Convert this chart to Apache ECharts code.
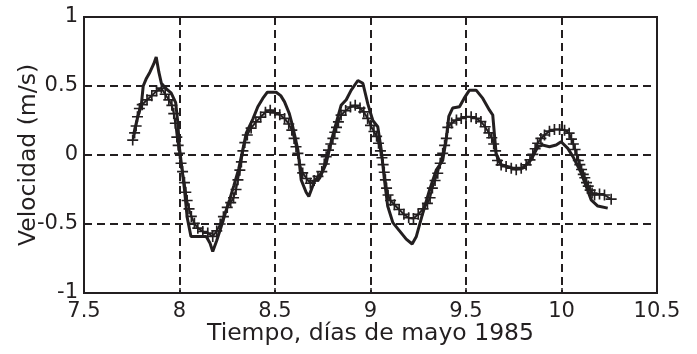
<!DOCTYPE html>
<html>
<head>
<meta charset="utf-8">
<script src="https://cdn.jsdelivr.net/npm/echarts@6/dist/echarts.min.js"></script>
<style>
html,body{margin:0;padding:0;background:#fff;}
#chart{width:697px;height:354px;}
</style>
</head>
<body>
<div id="chart"></div>
<script>
// Model (solid line)
const modelT = [7.76,7.78,7.80,7.81,7.825,7.845,7.865,7.878,7.892,7.905,7.93,7.956,7.98,7.99,8.0,8.013,8.026,8.04,8.06,8.10,8.14,8.16,8.174,8.195,8.218,8.24,8.262,8.285,8.31,8.33,8.35,8.384,8.41,8.436,8.46,8.506,8.53,8.55,8.575,8.593,8.61,8.62,8.637,8.663,8.677,8.707,8.733,8.768,8.80,8.83,8.846,8.873,8.899,8.934,8.96,8.986,9.012,9.038,9.056,9.073,9.09,9.117,9.152,9.187,9.218,9.24,9.274,9.31,9.344,9.378,9.396,9.41,9.43,9.466,9.49,9.518,9.553,9.588,9.623,9.64,9.65,9.658,9.684,9.745,9.797,9.84,9.876,9.90,9.937,9.972,9.998,10.033,10.06,10.103,10.13,10.155,10.19,10.242];
const modelV = [0.15,0.27,0.36,0.50,0.55,0.60,0.66,0.71,0.60,0.52,0.48,0.45,0.38,0.25,0.05,-0.10,-0.25,-0.45,-0.59,-0.59,-0.59,-0.64,-0.70,-0.62,-0.52,-0.42,-0.325,-0.22,-0.10,0.03,0.16,0.26,0.35,0.41,0.455,0.455,0.43,0.385,0.30,0.205,0.10,0.036,-0.18,-0.27,-0.30,-0.19,-0.17,-0.06,0.13,0.28,0.36,0.40,0.47,0.54,0.52,0.37,0.25,0.205,0.04,-0.18,-0.37,-0.49,-0.55,-0.61,-0.645,-0.59,-0.42,-0.25,-0.11,-0.04,0.11,0.28,0.34,0.35,0.41,0.47,0.47,0.41,0.325,0.29,0.13,0.01,-0.07,-0.096,-0.096,-0.036,0.06,0.072,0.06,0.072,0.096,0.048,-0.012,-0.13,-0.23,-0.325,-0.37,-0.385];

// Measured (+ markers)
const measT = [7.755,7.765,7.773,7.78,7.79,7.805,7.83,7.855,7.88,7.905,7.925,7.944,7.96,7.97,7.978,7.986,7.993,8.0,8.008,8.016,8.026,8.033,8.04,8.05,8.062,8.078,8.096,8.122,8.148,8.174,8.195,8.213,8.23,8.25,8.268,8.283,8.296,8.306,8.316,8.324,8.332,8.342,8.355,8.375,8.4,8.425,8.45,8.475,8.5,8.525,8.55,8.572,8.588,8.6,8.61,8.62,8.63,8.645,8.665,8.685,8.705,8.725,8.745,8.758,8.768,8.78,8.792,8.803,8.813,8.822,8.832,8.846,8.87,8.895,8.92,8.945,8.965,8.985,9.0,9.018,9.032,9.042,9.052,9.06,9.066,9.072,9.078,9.084,9.092,9.105,9.125,9.15,9.175,9.2,9.225,9.25,9.275,9.298,9.312,9.324,9.338,9.352,9.365,9.378,9.388,9.397,9.405,9.425,9.45,9.475,9.5,9.527,9.553,9.578,9.6,9.62,9.635,9.645,9.655,9.665,9.684,9.71,9.737,9.763,9.789,9.815,9.835,9.85,9.862,9.875,9.892,9.911,9.937,9.963,9.99,10.016,10.04,10.052,10.062,10.071,10.08,10.088,10.096,10.105,10.114,10.122,10.131,10.14,10.15,10.16,10.173,10.199,10.225,10.26];
const measV = [0.108,0.16,0.21,0.277,0.337,0.365,0.40,0.43,0.465,0.485,0.44,0.40,0.36,0.30,0.23,0.13,0.07,0.012,-0.06,-0.12,-0.2,-0.27,-0.33,-0.39,-0.445,-0.495,-0.53,-0.554,-0.566,-0.59,-0.55,-0.50,-0.447,-0.38,-0.345,-0.31,-0.25,-0.18,-0.11,-0.05,0.03,0.09,0.145,0.195,0.24,0.275,0.31,0.325,0.305,0.292,0.265,0.225,0.18,0.12,0.06,0.012,-0.07,-0.13,-0.17,-0.205,-0.185,-0.155,-0.12,-0.065,-0.012,0.035,0.08,0.12,0.165,0.2,0.24,0.289,0.322,0.348,0.36,0.34,0.312,0.265,0.215,0.17,0.135,0.085,0.03,-0.02,-0.07,-0.125,-0.18,-0.24,-0.29,-0.33,-0.36,-0.395,-0.43,-0.455,-0.46,-0.43,-0.39,-0.35,-0.31,-0.24,-0.185,-0.132,-0.06,0.012,0.07,0.12,0.2,0.232,0.253,0.265,0.277,0.277,0.265,0.242,0.205,0.16,0.125,0.08,0.03,-0.04,-0.072,-0.084,-0.096,-0.106,-0.096,-0.072,-0.035,0.005,0.045,0.085,0.12,0.145,0.173,0.185,0.185,0.18,0.158,0.115,0.08,0.04,0.0,-0.04,-0.07,-0.105,-0.14,-0.165,-0.2,-0.225,-0.255,-0.275,-0.289,-0.282,-0.29,-0.32];

const xTicks = [7.5, 8, 8.5, 9, 9.5, 10, 10.5];
const yTicks = [-1, -0.5, 0, 0.5, 1];
const xTitle = 'Tiempo, días de mayo 1985';
const yTitle = 'Velocidad (m/s)';

const ink = '#231f20';
const font = 'DejaVu Sans';
const plusPath = 'path://M8.5,0H11.5V8.5H20V11.5H11.5V20H8.5V11.5H0V8.5H8.5Z';

const chart = echarts.init(document.getElementById('chart'), null, {renderer: 'canvas'});
chart.setOption({
  animation: false,
  backgroundColor: '#fff',
  grid: {left: 84, right: 40, top: 17, bottom: 61, containLabel: false, outerBoundsMode: 'none',
         show: true, borderColor: ink, borderWidth: 2, backgroundColor: 'transparent'},
  xAxis: {
    type: 'value', min: xTicks[0], max: xTicks[xTicks.length - 1], interval: 0.5,
    name: xTitle, nameLocation: 'middle', nameGap: 29, nameMoveOverlap: false,
    nameTextStyle: {fontFamily: font, fontSize: 23.5, color: ink},
    axisLine: {show: true, onZero: false, lineStyle: {color: ink, width: 2}},
    axisTick: {show: true, inside: true, length: 5, lineStyle: {color: ink, width: 1.5}},
    axisLabel: {fontFamily: font, fontSize: 21, color: ink, margin: 8},
    splitLine: {show: true, lineStyle: {color: ink, width: 2, type: [8, 5]}}
  },
  yAxis: {
    type: 'value', min: yTicks[0], max: yTicks[yTicks.length - 1], interval: 0.5,
    name: yTitle, nameLocation: 'middle', nameGap: 43, nameMoveOverlap: false,
    nameTextStyle: {fontFamily: font, fontSize: 23.5, color: ink},
    axisLine: {show: true, onZero: false, lineStyle: {color: ink, width: 2}},
    axisTick: {show: true, inside: true, length: 5, lineStyle: {color: ink, width: 1.5}},
    axisLabel: {fontFamily: font, fontSize: 21, color: ink, margin: 6},
    splitLine: {show: true, lineStyle: {color: ink, width: 2, type: [8, 5]}}
  },
  series: [
    {
      type: 'line', name: 'model',
      data: modelT.map((t, i) => [t, modelV[i]]),
      showSymbol: false, symbol: 'none',
      lineStyle: {color: ink, width: 3},
      z: 3
    },
    {
      type: 'line', name: 'measured',
      data: measT.map((t, i) => [t, measV[i]]),
      symbol: plusPath, symbolSize: 11, showSymbol: true, showAllSymbol: true,
      itemStyle: {color: ink},
      lineStyle: {color: ink, width: 2},
      z: 4
    }
  ]
});
</script>
</body>
</html>
